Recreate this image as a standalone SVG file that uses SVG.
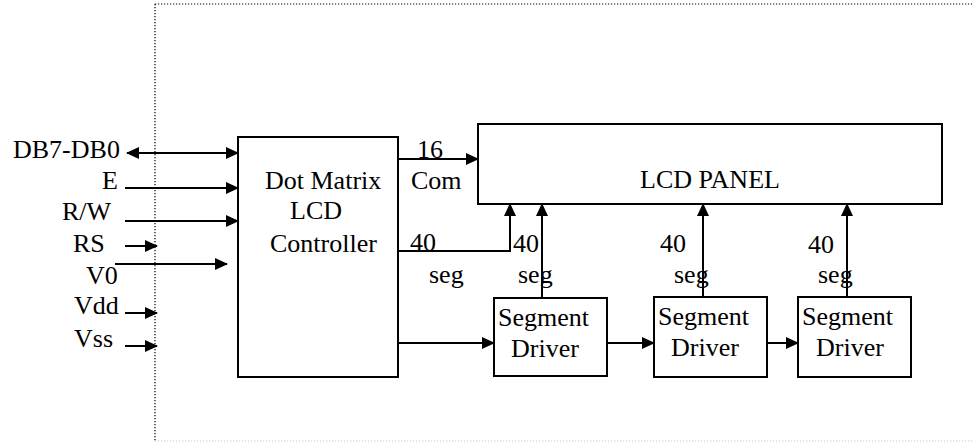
<svg xmlns="http://www.w3.org/2000/svg" width="974" height="444" viewBox="0 0 974 444">
<style>
  .t { font-family: "Liberation Serif", "Times New Roman", "DejaVu Serif", serif; font-size: 26px; fill: #000; }
  .box { fill: #fff; stroke: #000; stroke-width: 2; }
  .c { fill: none; stroke: #000; stroke-width: 2; }
  .a { marker-end: url(#ah); }
</style>
<defs>
  <marker id="ah" markerUnits="userSpaceOnUse" markerWidth="13" markerHeight="12" refX="12" refY="6" orient="auto-start-reverse">
    <path d="M0,0 L13,6 L0,12 z" fill="#000"/>
  </marker>
</defs>
<rect width="974" height="444" fill="#fff"/>
<g id="frame">
  <path d="M155,4 L974,4 M155,4 L155,442" fill="none" stroke="#000" stroke-width="1.2" stroke-dasharray="1.2,1.8"/>
  <path d="M155,441 L974,441" fill="none" stroke="#c8c8c8" stroke-width="1" stroke-dasharray="1.2,1.8"/>
</g>
<g id="pin-labels">
  <text class="t" x="13" y="158">DB7-DB0</text>
  <text class="t" x="102" y="189">E</text>
  <text class="t" x="62" y="220">R/W</text>
  <text class="t" x="73" y="252">RS</text>
  <text class="t" x="86" y="284">V0</text>
  <text class="t" x="74" y="314">Vdd</text>
  <text class="t" x="74" y="347">Vss</text>
</g>
<g id="controller">
  <rect class="box" x="238" y="137" width="160" height="240"/>
  <text class="t" x="265" y="189">Dot Matrix</text>
  <text class="t" x="290" y="219">LCD</text>
  <text class="t" x="270" y="252">Controller</text>
</g>
<g id="lcd-panel">
  <rect class="box" x="478" y="124" width="464" height="80"/>
  <text class="t" x="640" y="188">LCD PANEL</text>
</g>
<g id="driver1">
  <rect class="box" x="494" y="298" width="113" height="78"/>
  <text class="t" x="498" y="326">Segment</text>
  <text class="t" x="511" y="357">Driver</text>
</g>
<g id="driver2">
  <rect class="box" x="654" y="297" width="113" height="80"/>
  <text class="t" x="658" y="325">Segment</text>
  <text class="t" x="671" y="356">Driver</text>
</g>
<g id="driver3">
  <rect class="box" x="798" y="297" width="113" height="80"/>
  <text class="t" x="802" y="325">Segment</text>
  <text class="t" x="816" y="356">Driver</text>
</g>
<g id="connectors">
  <path class="c a" d="M127,153 L238,153" marker-start="url(#ah)"/>
  <path class="c a" d="M125,188 L238,188"/>
  <path class="c a" d="M125,221 L238,221"/>
  <path class="c a" d="M125,246 L157,246"/>
  <path class="c a" d="M115,264 L227,264"/>
  <path class="c a" d="M125,313 L157,313"/>
  <path class="c a" d="M125,346 L157,346"/>
  <path class="c a" d="M398,159 L478,159"/>
  <path class="c a" d="M398,251 L510,251 L510,204"/>
  <path class="c a" d="M542,298 L542,204"/>
  <path class="c a" d="M703,297 L703,204"/>
  <path class="c a" d="M847,297 L847,204"/>
  <path class="c a" d="M398,343 L494,343"/>
  <path class="c a" d="M607,343 L654,343"/>
  <path class="c a" d="M767,343 L798,343"/>
</g>
<g id="connector-labels">
  <text class="t" x="417" y="158">16</text>
  <text class="t" x="411" y="189">Com</text>
  <text class="t" x="410" y="251">40</text>
  <text class="t" x="429" y="283">seg</text>
  <text class="t" x="513" y="252">40</text>
  <text class="t" x="518" y="283">seg</text>
  <text class="t" x="660" y="252">40</text>
  <text class="t" x="674" y="283">seg</text>
  <text class="t" x="808" y="253">40</text>
  <text class="t" x="818" y="283">seg</text>
</g>
</svg>
